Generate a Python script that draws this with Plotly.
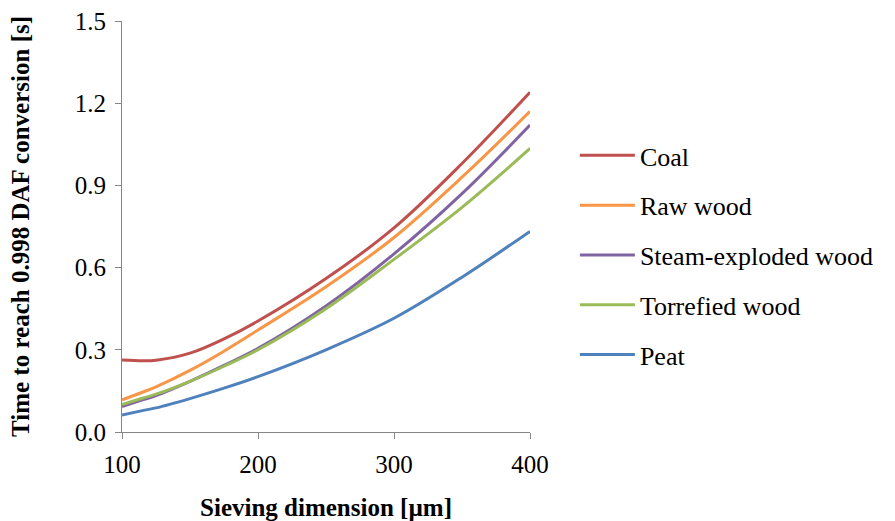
import plotly.graph_objects as go

x = [100, 115, 125, 150, 175, 200, 250, 300, 350, 400]
coal = [0.263, 0.260, 0.262, 0.288, 0.340, 0.405, 0.560, 0.745, 0.980, 1.240]
raw_wood = [0.117, 0.145, 0.165, 0.225, 0.295, 0.372, 0.530, 0.710, 0.930, 1.170]
steam_wood = [0.093, 0.117, 0.133, 0.185, 0.243, 0.305, 0.460, 0.650, 0.870, 1.120]
torrefied_wood = [0.100, 0.123, 0.138, 0.185, 0.240, 0.300, 0.450, 0.630, 0.820, 1.035]
peat = [0.062, 0.078, 0.088, 0.122, 0.160, 0.202, 0.300, 0.415, 0.565, 0.732]

series = [
    ("Coal", coal, "#C0504D"),
    ("Raw wood", raw_wood, "#F79646"),
    ("Steam-exploded wood", steam_wood, "#8064A2"),
    ("Torrefied wood", torrefied_wood, "#9BBB59"),
    ("Peat", peat, "#4F81BD"),
]

FONT = "Times New Roman, Liberation Serif, DejaVu Serif, serif"

fig = go.Figure()
for i, (name, ys, col) in enumerate(series):
    fig.add_trace(go.Scatter(
        x=x, y=ys, mode="lines", name=name, legendgroup=name,
        line=dict(color=col, width=3, shape="spline", smoothing=1.0),
        legendrank=i + 1,
    ))

axis_common = dict(
    showgrid=False, zeroline=False, showline=True, linecolor="#868686", linewidth=1,
    ticks="outside", tickcolor="#868686", ticklen=6, automargin=False,
    tickfont=dict(family=FONT, size=25, color="#000000"),
)

fig.update_layout(
    width=895, height=521,
    margin=dict(l=122, r=365, t=21, b=89),
    paper_bgcolor="white", plot_bgcolor="white",
    xaxis=dict(range=[100, 400], tickvals=[100, 200, 300, 400], ticklabelstandoff=4,
               title=dict(text="<b>Sieving dimension [µm]</b>",
                          font=dict(family=FONT, size=25, color="#000"), standoff=24),
               **axis_common),
    yaxis=dict(range=[0, 1.5], tickvals=[0, 0.3, 0.6, 0.9, 1.2, 1.5], tickformat=".1f",
               ticklabelstandoff=4,
               title=dict(text="<b>Time to reach 0.998 DAF conversion [s]</b>",
                          font=dict(family=FONT, size=25, color="#000"), standoff=38),
               **axis_common),
    legend=dict(x=1.11, y=0.73, xanchor="left", yanchor="top",
                font=dict(family=FONT, size=26, color="#000"),
                itemwidth=55,
                traceorder="grouped", tracegroupgap=13, bgcolor="rgba(0,0,0,0)"),
    showlegend=True,
)

fig.write_html("out.html", post_script="document.body.style.margin='0';",
               config={"displayModeBar": False})
